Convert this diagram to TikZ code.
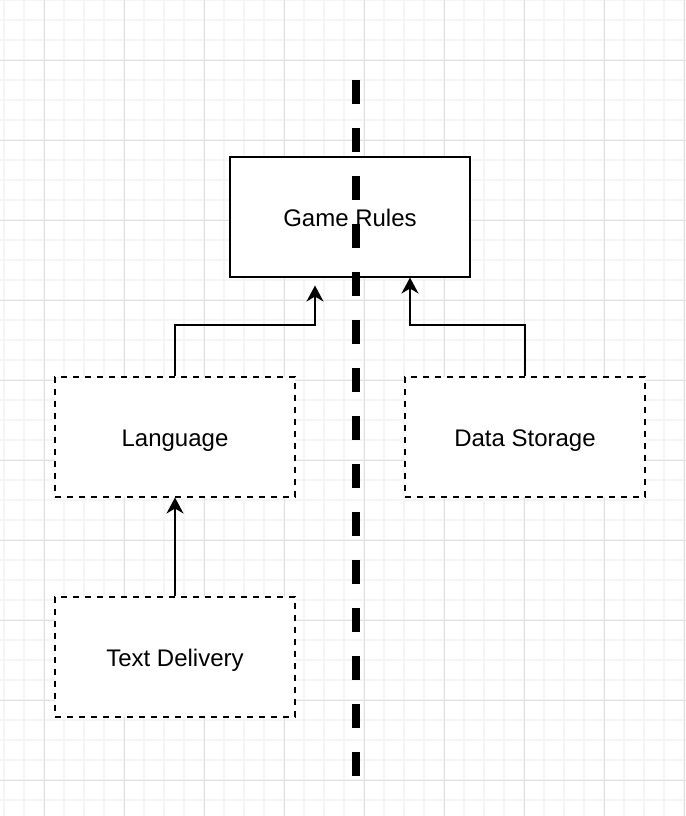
\documentclass[tikz,border=0pt]{standalone}
\usepackage{fontspec}
\setmainfont{Liberation Sans}
\usetikzlibrary{arrows.meta}

\begin{document}
\begin{tikzpicture}[
    x=0.5pt, y=-0.5pt,
    node distance=110pt,
    every node/.style={font=\fontsize{12pt}{14pt}\selectfont},
    block/.style={rectangle, draw, line width=1pt, fill=white, minimum width=120pt, minimum height=60pt, text centered, text height=9.5pt, text depth=0pt},
    module/.style={block, dash pattern=on 3pt off 3pt},
    divider/.style={line width=4pt, dash pattern=on 12pt off 12pt},
    link/.style={->, line width=1pt, >={Stealth[length=8pt, width=8.5pt, inset=2.5pt]}}
]

\useasboundingbox (0,0) rectangle (686,816);

% Grid
\foreach \x in {4,24,...,684} \draw[black!4, line width=0.75pt] (\x,0) -- (\x,816);
\foreach \y in {0,20,...,800} \draw[black!4, line width=0.75pt] (0,\y) -- (686,\y);
\foreach \x in {44,124,...,684} \draw[black!12, line width=0.5pt] (\x,0) -- (\x,816);
\foreach \y in {60,140,...,780} \draw[black!12, line width=0.5pt] (0,\y) -- (686,\y);

% Boxes
\node[block] (rules) at (350,216.5) {Game Rules};

\node[module, below of=rules, xshift=-87.5pt] (language) {Language};

\node[module, below of=rules, xshift=87.5pt] (storage) {Data Storage};

\node[module, below of=language] (delivery) {Text Delivery};

% Arrows
\coordinate (rulesleft) at ([xshift=-17.5pt, yshift=-4pt]rules.south);
\coordinate (rulesright) at ([xshift=30pt]rules.south);
\draw[link] (language.north) -- ++(0,-50.5) -| (rulesleft);
\draw[link] (storage.north) -- ++(0,-50.5) -| (rulesright);
\draw[link] (delivery) -- (language);

% Divider
\coordinate (divtop) at (356,80);
\coordinate (divbottom) at (356,776);
\draw[divider] (divtop) -- (divbottom);

\end{tikzpicture}
\end{document}
